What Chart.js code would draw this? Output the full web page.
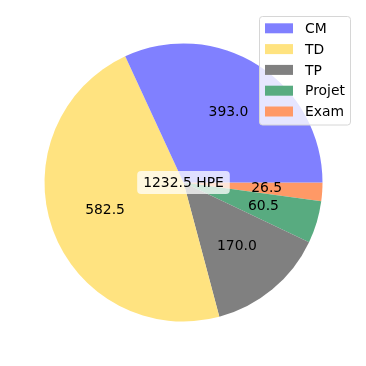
<!DOCTYPE html>
<html>
<head>
<meta charset="utf-8">
<script src="https://cdn.jsdelivr.net/npm/chart.js@4"></script>
<style>
  html, body { margin: 0; padding: 0; background: #fff; }
  #wrap { width: 366px; height: 366px; }
</style>
</head>
<body>
<div id="wrap"><canvas id="hpeGraph" width="366" height="366"></canvas></div>
<script>
// categories and hours
var labels = ["CM", "TD", "TP", "Projet", "Exam"];
var hours = [393.0, 582.5, 170.0, 60.5, 26.5];
var colors = ["#8080ff", "#ffe380", "#808080", "#58ab80", "#ff9966"];
var centerUnit = "HPE";

var FONT = "13.9px 'DejaVu Sans', sans-serif";

// matplotlib draws counterclockwise from east, chart.js goes clockwise:
// feed the slices reversed and start at 3 o'clock
var revLabels = labels.slice().reverse();
var revHours = hours.slice().reverse();
var revColors = colors.slice().reverse();

var total = hours.reduce(function(a, b){ return a + b; }, 0);

var sliceLabels = {
    id: 'sliceLabels',
    afterDatasetsDraw: function(chart){
        var ctx = chart.ctx;
        var meta = chart.getDatasetMeta(0);
        ctx.save();
        ctx.font = FONT;
        ctx.fillStyle = "#000";
        ctx.textAlign = "center";
        ctx.textBaseline = "middle";
        meta.data.forEach(function(arc, i){
            var a = (arc.startAngle + arc.endAngle) / 2;
            var r = arc.outerRadius * 0.6;
            ctx.fillText(revHours[i].toFixed(1), arc.x + Math.cos(a) * r, arc.y + Math.sin(a) * r);
        });
        // total in the middle, on a rounded white box
        var arc0 = meta.data[0];
        var txt = total.toFixed(1) + " " + centerUnit;
        var w = ctx.measureText(txt).width + 12;
        var h = 23;
        ctx.fillStyle = "rgba(255,255,255,0.75)";
        ctx.beginPath();
        ctx.roundRect(arc0.x - w / 2, arc0.y - h / 2, w, h, 4);
        ctx.fill();
        ctx.fillStyle = "#000";
        ctx.fillText(txt, arc0.x, arc0.y + 1);
        ctx.restore();
    }
};

var boxLegend = {
    id: 'boxLegend',
    afterDraw: function(chart){
        var ctx = chart.ctx;
        ctx.save();
        ctx.fillStyle = "rgba(255,255,255,0.8)";
        ctx.strokeStyle = "#d6d6d6";
        ctx.lineWidth = 1;
        ctx.beginPath();
        ctx.roundRect(259.5, 16.5, 91, 108.5, 3);
        ctx.fill();
        ctx.stroke();
        ctx.font = FONT;
        ctx.textBaseline = "middle";
        ctx.textAlign = "left";
        labels.forEach(function(lab, i){
            var y = 28.3 + i * 20.8;
            ctx.fillStyle = colors[i];
            ctx.fillRect(265, y - 5, 28, 10);
            ctx.fillStyle = "#000";
            ctx.fillText(lab, 305, y + 1);
        });
        ctx.restore();
    }
};

var hpeConfig = {
    type: 'pie',
    data: {
        labels: revLabels,
        datasets: [{
            data: revHours,
            backgroundColor: revColors,
            borderWidth: 0
        }]
    },
    options: {
        responsive: false,
        animation: false,
        rotation: 90,
        layout: {
            padding: { left: 44.5, right: 43.5, top: 43.5, bottom: 44.5 }
        },
        plugins: {
            legend: { display: false },
            tooltip: { enabled: false }
        }
    },
    plugins: [sliceLabels, boxLegend]
};

var hpeCtx = document.getElementById("hpeGraph");
var hpeChart = new Chart(hpeCtx, hpeConfig);
</script>
</body>
</html>
